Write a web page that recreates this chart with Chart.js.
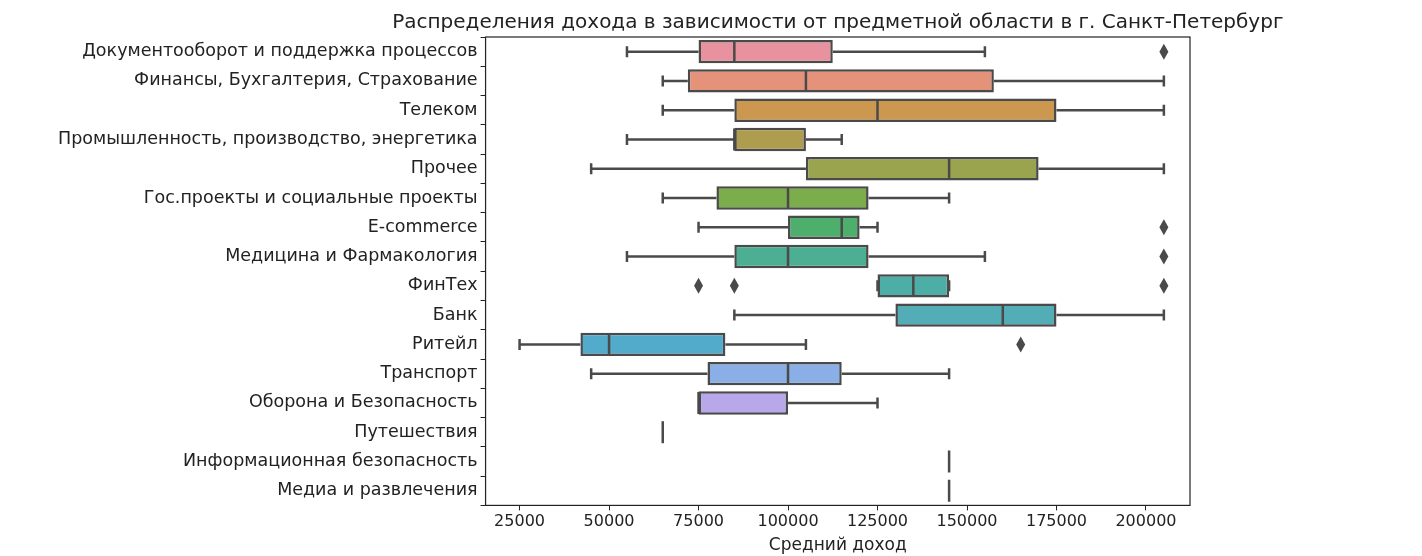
<!DOCTYPE html>
<html>
<head>
<meta charset="utf-8">
<script src="https://cdn.jsdelivr.net/npm/chart.js@4"></script>
<style>
  body { margin: 0; background: #fff; }
  #wrap { width: 1422px; height: 556px; }
</style>
</head>
<body>
<div id="wrap"><canvas id="box"></canvas></div>
<script>
const categories = ['Документооборот и поддержка процессов', 'Финансы, Бухгалтерия, Страхование', 'Телеком',
    'Промышленность, производство, энергетика', 'Прочее', 'Гос.проекты и социальные проекты', 'E-commerce',
    'Медицина и Фармакология', 'ФинТех', 'Банк', 'Ритейл', 'Транспорт', 'Оборона и Безопасность',
    'Путешествия', 'Информационная безопасность', 'Медиа и развлечения']
const whiskLow = [55000, 65000, 65000, 55000, 45000, 65000, 75000, 55000, 125000, 85000, 25000, 45000, 75000, 65000, 145000, 145000]
const q1 = [75000, 72000, 85000, 85000, 105000, 80000, 100000, 85000, 125000, 130000, 42000, 77500, 75000, 65000, 145000, 145000]
const medians = [85000, 105000, 125000, 85000, 145000, 100000, 115000, 100000, 135000, 160000, 50000, 100000, 75000, 65000, 145000, 145000]
const q3 = [112500, 157500, 175000, 105000, 170000, 122500, 120000, 122500, 145000, 175000, 82500, 115000, 100000, 65000, 145000, 145000]
const whiskHigh = [155000, 205000, 205000, 115000, 205000, 145000, 125000, 155000, 145000, 205000, 105000, 145000, 125000, 65000, 145000, 145000]
const outliers = [[205000], [], [], [], [], [], [205000], [205000], [75000, 85000, 205000], [], [165000], [], [], [], [], []]
const tickVals = [25000, 50000, 75000, 100000, 125000, 150000, 175000, 200000]
const colors = ['#e8919f', '#e5927a', '#cc984f', '#ae9d4e', '#9aa34d', '#7bae4a', '#4eae6c', '#4caf93',
    '#4caea6', '#52adb6', '#53abcb', '#8aaee6', '#b8a8ea', '#d49be6', '#e592cf', '#e894b4']
const titleText = 'Распределения дохода в зависимости от предметной области в г. Санкт-Петербург'

const edge = '#4a4a4a'

// whiskers, medians, outliers, frame and title, placed through the chart's own scales
const boxExtras = {
    id: 'boxExtras',
    afterDatasetsDraw(chart) {
        const ctx = chart.ctx
        const x = chart.scales.x, y = chart.scales.y
        const half = 11
        ctx.save()
        ctx.strokeStyle = edge
        ctx.fillStyle = edge
        ctx.lineWidth = 2.5
        categories.forEach((c, i) => {
            const cy = y.getPixelForValue(i)
            const xl = x.getPixelForValue(whiskLow[i]), xh = x.getPixelForValue(whiskHigh[i])
            const a = x.getPixelForValue(q1[i]), b = x.getPixelForValue(q3[i])
            ctx.beginPath()
            if (a === b) {
                ctx.moveTo(a, cy - half); ctx.lineTo(a, cy + half)
            } else {
                ctx.moveTo(xl, cy); ctx.lineTo(a, cy)
                ctx.moveTo(b, cy); ctx.lineTo(xh, cy)
                ctx.moveTo(xl, cy - 5.5); ctx.lineTo(xl, cy + 5.5)
                ctx.moveTo(xh, cy - 5.5); ctx.lineTo(xh, cy + 5.5)
                const m = x.getPixelForValue(medians[i])
                ctx.moveTo(m, cy - half); ctx.lineTo(m, cy + half)
            }
            ctx.stroke()
            outliers[i].forEach(v => {
                const px = x.getPixelForValue(v)
                ctx.beginPath()
                ctx.moveTo(px, cy - 8); ctx.lineTo(px + 4.5, cy); ctx.lineTo(px, cy + 8); ctx.lineTo(px - 4.5, cy)
                ctx.closePath()
                ctx.fill()
            })
        })
        const ar = chart.chartArea
        ctx.lineWidth = 1.2
        ctx.strokeStyle = '#222'
        ctx.strokeRect(ar.left, ar.top, ar.right - ar.left, ar.bottom - ar.top)
        ctx.fillStyle = '#222'
        ctx.font = '20px "DejaVu Sans"'
        ctx.textAlign = 'center'
        ctx.textBaseline = 'alphabetic'
        ctx.fillText(titleText, (ar.left + ar.right) / 2, ar.top - 9)
        ctx.restore()
    }
}

new Chart(document.getElementById('box'), {
    type: 'bar',
    data: {
        labels: categories,
        datasets: [{
            data: categories.map((c, i) => [q1[i], q3[i]]),
            backgroundColor: colors,
            borderColor: edge,
            borderWidth: 2.5,
            borderSkipped: false,
            barPercentage: 0.8,
            categoryPercentage: 1.0
        }]
    },
    options: {
        responsive: true,
        maintainAspectRatio: false,
        animation: false,
        indexAxis: 'y',
        layout: { padding: { left: 55, right: 232, top: 37, bottom: 0 } },
        scales: {
            x: {
                min: 15500,
                max: 212300,
                afterBuildTicks: (s) => { s.ticks = tickVals.map(v => ({ value: v })) },
                grid: { drawOnChartArea: false, tickLength: 5, color: '#222' },
                border: { display: false },
                ticks: { color: '#222', font: { family: 'DejaVu Sans', size: 16 }, padding: 2, callback: (v) => String(v) },
                title: { display: true, text: 'Средний доход', color: '#222', font: { family: 'DejaVu Sans', size: 17 }, padding: { top: 2, bottom: 0 } }
            },
            y: {
                grid: { drawOnChartArea: false, tickLength: 5, color: '#222' },
                border: { display: false },
                ticks: { color: '#222', font: { family: 'DejaVu Sans', size: 17.5 }, padding: 3 }
            }
        },
        plugins: {
            legend: { display: false },
            tooltip: { enabled: false }
        }
    },
    plugins: [boxExtras]
});
</script>
</body>
</html>
